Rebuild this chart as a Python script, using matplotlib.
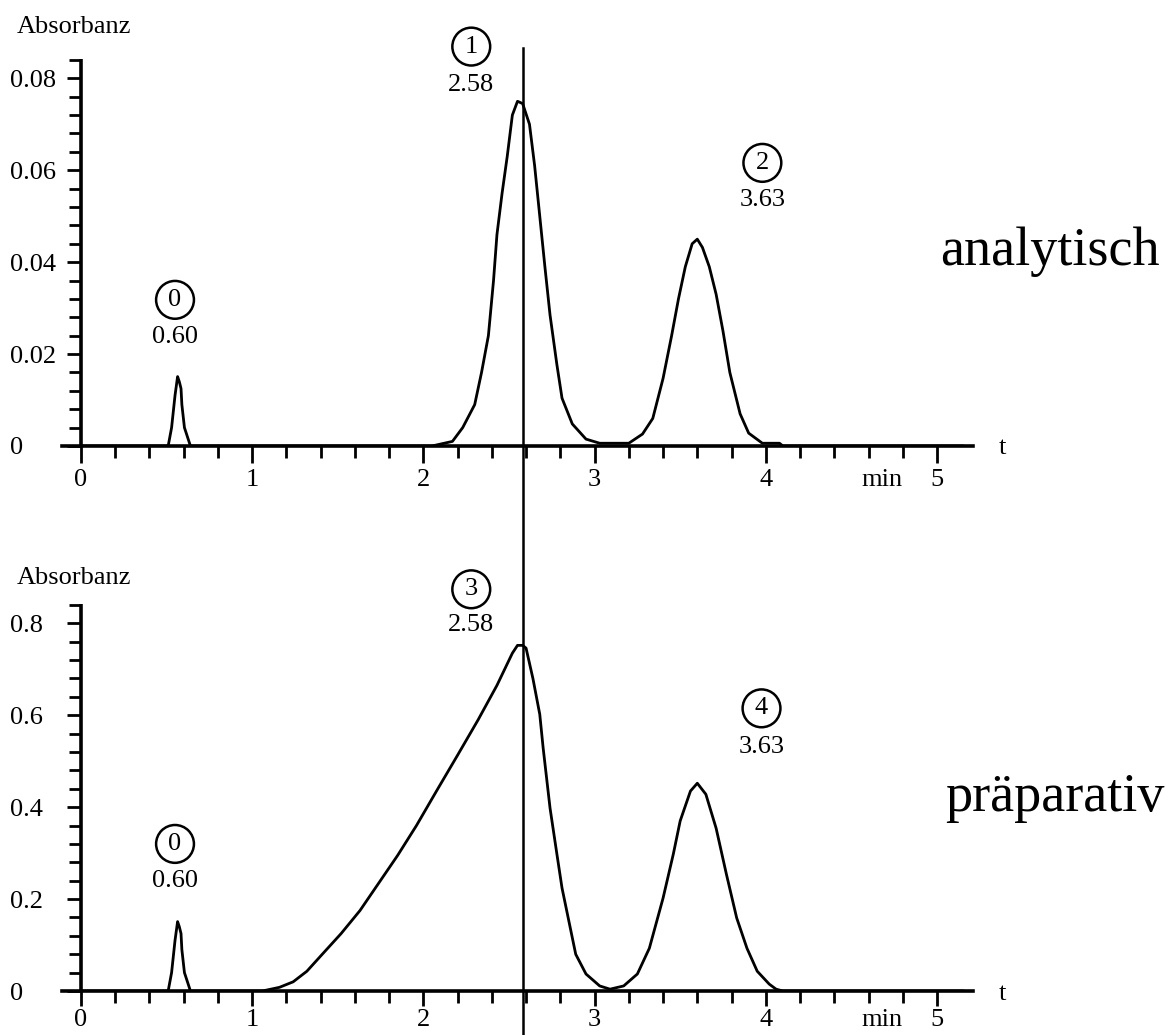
import matplotlib
matplotlib.use("Agg")
import matplotlib.pyplot as plt
from matplotlib.ticker import FixedLocator

plt.rcParams['font.family'] = ['Liberation Serif', 'DejaVu Serif']

# ---------------- data ----------------
t_top = [0.0, 0.51, 0.53, 0.55, 0.565, 0.575, 0.585, 0.59, 0.605, 0.64,
         2.05, 2.17, 2.23, 2.30, 2.34, 2.38, 2.41, 2.43, 2.46, 2.49, 2.52,
         2.55, 2.58, 2.62, 2.65, 2.68, 2.71, 2.74, 2.78, 2.81, 2.87, 2.95,
         3.03, 3.20, 3.28, 3.34, 3.40, 3.45, 3.49, 3.53, 3.57, 3.60, 3.63,
         3.67, 3.71, 3.75, 3.79, 3.85, 3.90, 3.98, 4.08, 4.10, 5.15]
a_top = [0.0, 0.0, 0.004, 0.011, 0.0151, 0.014, 0.0125, 0.009, 0.004, 0.0,
         0.0, 0.001, 0.004, 0.009, 0.016, 0.024, 0.036, 0.046, 0.055, 0.063, 0.072,
         0.075, 0.0745, 0.070, 0.061, 0.050, 0.039, 0.0285, 0.0177, 0.0104, 0.0048, 0.0015,
         0.0006, 0.0006, 0.0026, 0.006, 0.0147, 0.024, 0.032, 0.039, 0.044, 0.045, 0.0432,
         0.039, 0.033, 0.025, 0.016, 0.007, 0.0028, 0.0006, 0.0006, 0.0, 0.0]

t_bot = [0.0, 0.51, 0.53, 0.55, 0.565, 0.575, 0.585, 0.59, 0.605, 0.64,
         1.06, 1.16, 1.24, 1.32, 1.41, 1.52, 1.63, 1.74, 1.85, 1.96, 2.08,
         2.20, 2.32, 2.43, 2.52, 2.55, 2.58, 2.60, 2.64, 2.68, 2.70, 2.74,
         2.78, 2.81, 2.85, 2.89, 2.95, 3.03, 3.09, 3.17, 3.25, 3.32, 3.40,
         3.46, 3.50, 3.56, 3.60, 3.65, 3.71, 3.77, 3.83, 3.89, 3.95, 4.02,
         4.06, 4.10, 5.15]
a_bot = [0.0, 0.0, 0.04, 0.11, 0.151, 0.14, 0.125, 0.09, 0.04, 0.0,
         0.0, 0.008, 0.020, 0.043, 0.080, 0.125, 0.175, 0.235, 0.295, 0.360, 0.437,
         0.513, 0.590, 0.665, 0.735, 0.752, 0.752, 0.746, 0.680, 0.602, 0.528, 0.398,
         0.298, 0.224, 0.152, 0.080, 0.037, 0.011, 0.004, 0.011, 0.037, 0.093, 0.202,
         0.298, 0.370, 0.435, 0.452, 0.428, 0.354, 0.254, 0.159, 0.093, 0.043, 0.015,
         0.004, 0.0, 0.0]

x_major = [0, 1, 2, 3, 4, 5]
x_labels = ['0', '1', '2', '3', '4', '5']
x_minor = [0.2, 0.4, 0.6, 0.8, 1.2, 1.4, 1.6, 1.8, 2.2, 2.4, 2.6, 2.8,
           3.2, 3.4, 3.6, 3.8, 4.2, 4.4, 4.6, 4.8]

y_major_top = [0, 0.02, 0.04, 0.06, 0.08]
y_labels_top = ['0', '0.02', '0.04', '0.06', '0.08']
y_minor_top = [0.004, 0.008, 0.012, 0.016, 0.024, 0.028, 0.032, 0.036,
               0.044, 0.048, 0.052, 0.056, 0.064, 0.068, 0.072, 0.076, 0.084]

y_major_bot = [0, 0.2, 0.4, 0.6, 0.8]
y_labels_bot = ['0', '0.2', '0.4', '0.6', '0.8']
y_minor_bot = [0.04, 0.08, 0.12, 0.16, 0.24, 0.28, 0.32, 0.36,
               0.44, 0.48, 0.52, 0.56, 0.64, 0.68, 0.72, 0.76, 0.84]

# peak labels: (number, retention time text, x, y_circle, y_text)
peaks_top = [('0', '0.60', 0.55, 0.0318, 0.0238),
             ('1', '2.58', 2.28, 0.0869, 0.0785),
             ('2', '3.63', 3.98, 0.0616, 0.0536)]
peaks_bot = [('0', '0.60', 0.55, 0.320, 0.239),
             ('3', '2.58', 2.28, 0.874, 0.796),
             ('4', '3.63', 3.975, 0.615, 0.530)]

t_marker = 2.58

# ---------------- figure ----------------
W, H = 1175, 1035
fig = plt.figure(figsize=(W / 100, H / 100), dpi=100)

FS = 19
AXLW = 2.6
CURVELW = 2.0


def make_axes(bottom_px, ytop, ymajor, ylabels, yminor, xpad, mlen):
    left_px, right_px = 62, 973
    height_px = 387
    ax = fig.add_axes([left_px / W, 1 - bottom_px / H,
                       (right_px - left_px) / W, height_px / H])
    ax.patch.set_visible(False)
    ax.set_xlim(-0.11, 5.21)
    ax.set_ylim(0, ytop)
    for s in ('top', 'right'):
        ax.spines[s].set_visible(False)
    ax.spines['left'].set_position(('data', 0))
    ax.spines['bottom'].set_position(('data', 0))
    ax.spines['left'].set_linewidth(AXLW)
    ax.spines['bottom'].set_linewidth(AXLW)
    ax.spines['left'].set_capstyle('butt')
    ax.xaxis.set_major_locator(FixedLocator(x_major))
    ax.set_xticklabels(x_labels)
    ax.xaxis.set_minor_locator(FixedLocator(x_minor))
    ax.yaxis.set_major_locator(FixedLocator(ymajor))
    ax.set_yticklabels(ylabels)
    ax.yaxis.set_minor_locator(FixedLocator(yminor))
    ax.tick_params(axis='x', which='major', direction='out', length=mlen,
                   width=2.0, labelsize=FS, pad=xpad)
    ax.tick_params(axis='x', which='minor', direction='out', length=8.6, width=2.0)
    ax.tick_params(axis='y', which='major', direction='out', length=10.1,
                   width=2.0, labelsize=FS, pad=41)
    ax.tick_params(axis='y', which='minor', direction='out', length=8.6, width=2.0)
    for lab in ax.get_yticklabels():
        lab.set_horizontalalignment('left')
    # axis name labels
    ax.text(5.38, 0, 't', fontsize=FS, ha='center', va='center_baseline')
    ax.annotate('min', xy=(4.68, 0), xytext=(0, -(mlen + xpad)), textcoords='offset points',
                ha='center', va='top', fontsize=FS)
    return ax


ax1 = make_axes(446, 0.0842, y_major_top, y_labels_top, y_minor_top, 4.6, 12.2)
ax2 = make_axes(991, 0.842, y_major_bot, y_labels_bot, y_minor_bot, 1.8, 11.0)

ax1.plot(t_top, a_top, color='black', lw=CURVELW, solid_joinstyle='round')
ax2.plot(t_bot, a_bot, color='black', lw=CURVELW, solid_joinstyle='round')

for ax, peaks in ((ax1, peaks_top), (ax2, peaks_bot)):
    for num, rt, x, yc, yt in peaks:
        ax.text(x, yc, num, fontsize=FS, ha='center', va='center',
                clip_on=False,
                bbox=dict(boxstyle='circle,pad=0.3', fc='none', ec='black', lw=1.8))
        ax.text(x, yt, rt, fontsize=FS, ha='center', va='center', clip_on=False)

# vertical marker line crossing both panels
ax2.axvline(t_marker, ymin=(991 - 1035) / 387, ymax=(991 - 48) / 387,
            color='black', lw=1.8, clip_on=False)

fig.text(17 / W, 1 - 27 / H, 'Absorbanz', fontsize=FS, ha='left', va='center')
fig.text(17 / W, 1 - 578 / H, 'Absorbanz', fontsize=FS, ha='left', va='center')
fig.text(940 / W, 1 - 252 / H, 'analytisch', fontsize=39, ha='left', va='center')
fig.text(945 / W, 1 - 798 / H, 'präparativ', fontsize=39, ha='left', va='center')

fig.savefig('out.png', dpi=100)
